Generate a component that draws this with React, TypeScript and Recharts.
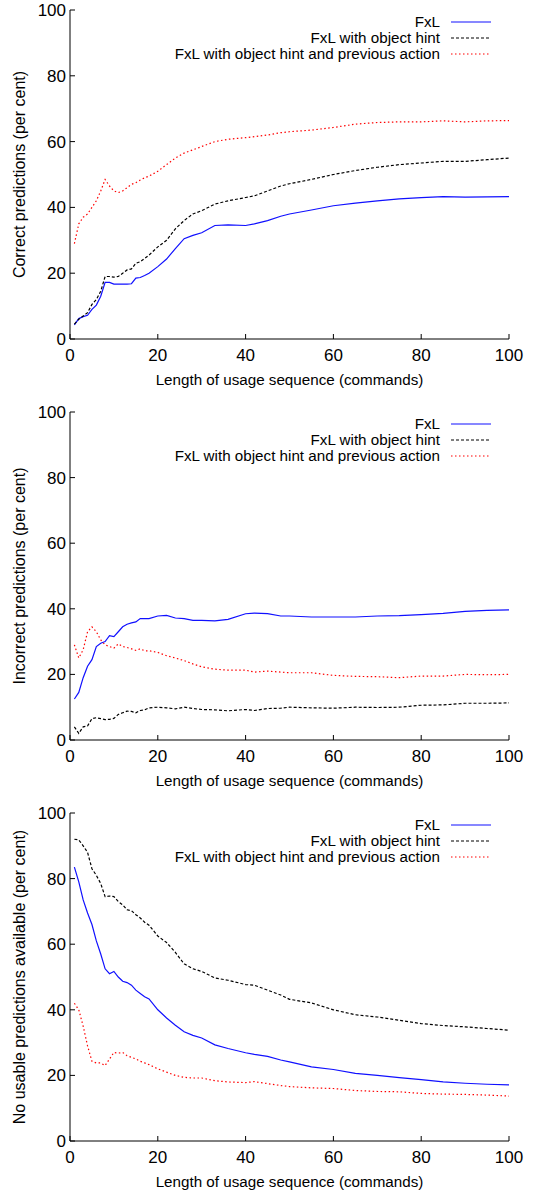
import { LineChart, Line, XAxis, YAxis, Legend, Label } from 'recharts';

const xValues = [
  1, 2, 3, 4, 5, 6, 7, 8, 9, 10, 11, 12, 13, 14, 15, 16, 17, 18, 20, 22, 24, 26, 28, 30, 33, 36,
  40, 42, 45, 48, 50, 55, 60, 65, 70, 75, 80, 85, 90, 95, 100,
];

// Correct predictions
const correctFxL = [
  4.3, 6.2, 6.8, 7.2, 9, 10.3, 13, 17.2, 17.2, 16.7, 16.7, 16.7, 16.7, 16.8, 18.5, 18.7, 19.3, 20,
  22, 24.3, 27.5, 30.5, 31.5, 32.3, 34.5, 34.7, 34.5, 35, 36, 37.3, 38, 39.2, 40.5, 41.3, 42, 42.6,
  43, 43.3, 43.1, 43.2, 43.3,
];
const correctHint = [
  4.5, 6, 7, 8, 10.5, 12, 14.5, 19, 19, 18.8, 19, 20, 21, 21.3, 23, 23.5, 24.5, 25.5, 28, 30, 33.5,
  36, 38, 39, 41, 42, 43, 43.5, 45, 46.5, 47.2, 48.5, 50, 51.2, 52.2, 53, 53.5, 54, 54, 54.5, 55,
];
const correctPrev = [
  29, 35, 37, 38, 40, 42, 45, 48.5, 46.5, 45, 44.5, 45, 46, 47, 47.5, 48.3, 49, 49.5, 51, 53, 55,
  56.5, 57.5, 58.5, 60, 60.7, 61.2, 61.5, 62, 62.7, 63, 63.5, 64.3, 65.3, 65.8, 66, 66, 66.3, 66,
  66.3, 66.4,
];

// Incorrect predictions
const incorrectFxL = [
  12.5, 14.5, 19, 22.5, 24.5, 28.5, 29.5, 30, 31.8, 31.5, 33, 34.5, 35.3, 35.7, 36, 37, 37, 37,
  37.8, 38, 37.2, 37, 36.5, 36.5, 36.3, 36.8, 38.5, 38.7, 38.5, 37.8, 37.8, 37.5, 37.5, 37.5, 37.8,
  37.9, 38.2, 38.6, 39.2, 39.5, 39.7,
];
const incorrectHint = [
  4, 2, 4, 4.3, 6.5, 6.8, 6.5, 6.2, 6.3, 6.6, 7.8, 8.3, 8.8, 8.7, 8.3, 9, 9.2, 9.8, 10, 9.8, 9.5,
  10, 9.6, 9.3, 9.2, 8.9, 9.3, 9, 9.6, 9.7, 10, 9.8, 9.7, 10, 9.9, 10, 10.6, 10.7, 11.2, 11.2, 11.3,
];
const incorrectPrev = [
  29, 25, 27.5, 33, 34.5, 33, 30.5, 29, 28.5, 28, 29.3, 28.5, 28.2, 27.8, 27.3, 27.8, 27.2, 27.2,
  26.7, 25.7, 25, 24.2, 23.2, 22.3, 21.6, 21.3, 21.3, 20.7, 21, 20.7, 20.5, 20.5, 19.7, 19.4, 19.3,
  19, 19.5, 19.5, 20, 19.9, 20,
];

// No usable predictions available
const noneFxL = [
  83.5, 79, 73.5, 69.5, 66, 61, 57, 52.5, 51, 51.7, 50, 48.7, 48.3, 47.5, 46, 45, 44, 43.3, 40,
  37.5, 35.3, 33.3, 32.2, 31.4, 29.3, 28.2, 26.9, 26.4, 25.8, 24.7, 24.1, 22.6, 21.8, 20.6, 20,
  19.3, 18.7, 18, 17.6, 17.3, 17.1,
];
const noneHint = [
  92, 91.8, 90, 88, 83, 81, 78.5, 74.5, 74.7, 74.5, 73, 72, 70.5, 70.2, 69, 68, 66.7, 65.8, 62.5,
  60.5, 57.5, 54, 52.5, 51.7, 49.7, 49, 47.7, 47.5, 46, 44.5, 43.2, 42.1, 40, 38.5, 37.8, 36.8,
  35.8, 35.2, 34.8, 34.3, 33.8,
];
const nonePrev = [
  42, 40, 35, 29, 24.3, 23.8, 23.8, 23, 25, 27, 26.8, 27, 26, 25.5, 25, 24.3, 23.8, 23.3, 22, 21,
  20, 19.4, 19.2, 19.2, 18.4, 18, 17.8, 18.1, 17.5, 16.9, 16.6, 16.2, 16, 15.4, 15.1, 15, 14.5,
  14.3, 14.2, 14, 13.7,
];

const axisTicks = [0, 20, 40, 60, 80, 100];
const xTitle = 'Length of usage sequence (commands)';

const FONT = '"Liberation Sans", Arial, Helvetica, sans-serif';
const TICK_LEN = 5;
const TICK_FONT = 17;

const series = [
  { key: 'fxl', name: 'FxL', color: '#1010ff', dash: undefined as string | undefined },
  { key: 'hint', name: 'FxL with object hint', color: '#000000', dash: '3 2' },
  { key: 'prev', name: 'FxL with object hint and previous action', color: '#ff0000', dash: '1.5 2.5' },
];

const buildRows = (a: number[], b: number[], c: number[]) =>
  xValues.map((x, i) => ({ x, fxl: a[i], hint: b[i], prev: c[i] }));

const panels = [
  {
    title: 'Correct predictions (per cent)',
    rows: buildRows(correctFxL, correctHint, correctPrev),
    top: 0,
    height: 400,
    marginTop: 10,
    xHeight: 61,
  },
  {
    title: 'Incorrect predictions (per cent)',
    rows: buildRows(incorrectFxL, incorrectHint, incorrectPrev),
    top: 400,
    height: 400,
    marginTop: 12,
    xHeight: 60,
  },
  {
    title: 'No usable predictions available (per cent)',
    rows: buildRows(noneFxL, noneHint, nonePrev),
    top: 800,
    height: 393,
    marginTop: 13,
    xHeight: 52,
  },
];

function BottomTick(props: any) {
  const { x, y, payload } = props;
  return (
    <g>
      <line x1={x} x2={x} y1={y} y2={y - TICK_LEN} stroke="#000" />
      <text x={x} y={y + 22} textAnchor="middle" fontSize={TICK_FONT} fontFamily={FONT} fill="#000">
        {payload.value}
      </text>
    </g>
  );
}

function TopTick(props: any) {
  const { x, y } = props;
  return <line x1={x} x2={x} y1={y} y2={y + TICK_LEN} stroke="#000" />;
}

function LeftTick(props: any) {
  const { x, y, payload } = props;
  return (
    <g>
      <line x1={x} x2={x + TICK_LEN} y1={y} y2={y} stroke="#000" />
      <text x={x - 4} y={y + 6} textAnchor="end" fontSize={TICK_FONT} fontFamily={FONT} fill="#000">
        {payload.value}
      </text>
    </g>
  );
}

function RightTick(props: any) {
  const { x, y } = props;
  return <line x1={x - TICK_LEN} x2={x} y1={y} y2={y} stroke="#000" />;
}

const yTitle = (text: string) => (props: any) => {
  const vb = props.viewBox || { x: 0, y: 0, width: 70, height: 0 };
  const cx = vb.x + 19;
  const cy = vb.y + vb.height / 2;
  return (
    <text
      x={cx}
      y={cy}
      transform={`rotate(-90 ${cx} ${cy})`}
      textAnchor="middle"
      dominantBaseline="central"
      fontSize={16}
      fontFamily={FONT}
      fill="#000"
    >
      {text}
    </text>
  );
};

const xTitleLabel = (props: any) => {
  const vb = props.viewBox || { x: 0, y: 0, width: 0, height: 0 };
  return (
    <text
      x={vb.x + vb.width / 2}
      y={vb.y + 46}
      textAnchor="middle"
      fontSize={15.2}
      fontFamily={FONT}
      fill="#000"
    >
      {xTitle}
    </text>
  );
};

function LegendBox() {
  const rowsY = [12, 28, 44];
  return (
    <svg width={330} height={54} style={{ display: 'block' }}>
      {series.map((s, i) => (
        <g key={s.key}>
          <text
            x={279}
            y={rowsY[i] + 5}
            textAnchor="end"
            fontSize={15.2}
            fontFamily={FONT}
            fill="#000"
          >
            {s.name}
          </text>
          <line
            x1={290}
            x2={330}
            y1={rowsY[i]}
            y2={rowsY[i]}
            stroke={s.color}
            strokeWidth={1.2}
            strokeDasharray={s.dash}
          />
        </g>
      ))}
    </svg>
  );
}

function Panel({ panel }: { panel: (typeof panels)[number] }) {
  return (
    <div style={{ position: 'absolute', left: 0, top: panel.top, width: 546, height: panel.height }}>
      <LineChart
        width={546}
        height={panel.height}
        data={panel.rows}
        margin={{ top: panel.marginTop, right: 37, bottom: 0, left: 0 }}
      >
        <XAxis
          xAxisId="bottom"
          dataKey="x"
          type="number"
          domain={[0, 100]}
          ticks={axisTicks}
          orientation="bottom"
          height={panel.xHeight}
          tickSize={0}
          tickMargin={0}
          tickLine={false}
          axisLine={{ stroke: '#000' }}
          tick={<BottomTick />}
          interval={0}
        >
          <Label content={xTitleLabel} />
        </XAxis>
        <XAxis
          xAxisId="top"
          dataKey="x"
          type="number"
          domain={[0, 100]}
          ticks={axisTicks}
          orientation="top"
          height={0}
          tickSize={0}
          tickMargin={0}
          tickLine={false}
          axisLine={{ stroke: '#000' }}
          tick={<TopTick />}
          interval={0}
        />
        <YAxis
          yAxisId="left"
          type="number"
          domain={[0, 100]}
          ticks={axisTicks}
          orientation="left"
          width={70}
          tickSize={0}
          tickMargin={0}
          tickLine={false}
          axisLine={{ stroke: '#000' }}
          tick={<LeftTick />}
          interval={0}
        >
          <Label content={yTitle(panel.title)} />
        </YAxis>
        <YAxis
          yAxisId="right"
          type="number"
          domain={[0, 100]}
          ticks={axisTicks}
          orientation="right"
          width={0}
          tickSize={0}
          tickMargin={0}
          tickLine={false}
          axisLine={{ stroke: '#000' }}
          tick={<RightTick />}
          interval={0}
        />
        <Legend
          verticalAlign="middle"
          align="center"
          content={() => <LegendBox />}
          wrapperStyle={{ top: panel.marginTop, right: 55, left: 'auto', width: 330, height: 54 }}
        />
        {series.map((s) => (
          <Line
            key={s.key}
            xAxisId="bottom"
            yAxisId="left"
            dataKey={s.key}
            name={s.name}
            type="linear"
            stroke={s.color}
            strokeWidth={1.2}
            strokeDasharray={s.dash}
            dot={false}
            activeDot={false}
            isAnimationActive={false}
          />
        ))}
      </LineChart>
    </div>
  );
}

export default function App() {
  return (
    <div
      style={{
        position: 'absolute',
        left: 0,
        top: 0,
        width: 546,
        height: 1193,
        background: '#fff',
      }}
    >
      {panels.map((p) => (
        <Panel key={p.title} panel={p} />
      ))}
    </div>
  );
}
